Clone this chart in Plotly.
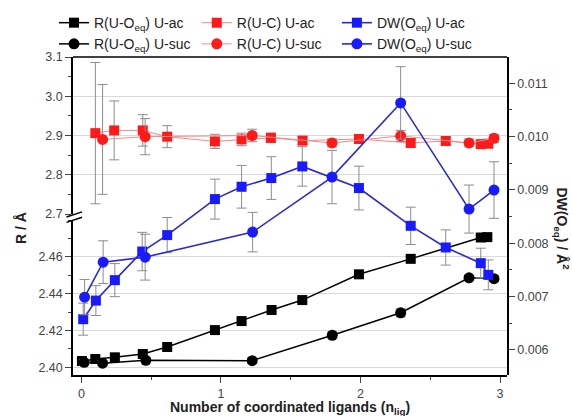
import plotly.graph_objects as go

# ---- data ----
x_blk_sq = [0.004, 0.10, 0.24, 0.44, 0.615, 0.957, 1.148, 1.363, 1.583, 1.989, 2.36, 2.862, 2.909]
y_blk_sq = [2.4034, 2.4045, 2.4054, 2.4072, 2.4110, 2.4202, 2.4251, 2.4311, 2.4365, 2.4505, 2.4589, 2.4705, 2.4707]
e_blk_sq = [0.0012, 0.0012, 0.0012, 0.0012, 0.0012, 0.0012, 0.0012, 0.0012, 0.0012, 0.0012, 0.0012, 0.0012, 0.0012]

x_blk_ci = [0.02, 0.152, 0.462, 1.224, 1.798, 2.288, 2.778, 2.957]
y_blk_ci = [2.4027, 2.4022, 2.4038, 2.4036, 2.4174, 2.4296, 2.4486, 2.4481]
e_blk_ci = [0.0015, 0.0015, 0.0015, 0.0015, 0.0018, 0.0022, 0.0015, 0.0015]

x_red_sq = [0.10, 0.235, 0.44, 0.615, 0.957, 1.148, 1.358, 1.585, 1.989, 2.36, 2.611, 2.862, 2.916]
y_red_sq = [2.906, 2.913, 2.913, 2.897, 2.885, 2.890, 2.894, 2.887, 2.891, 2.881, 2.886, 2.878, 2.879]
e_red_sq = [0.18, 0.075, 0.04, 0.028, 0.018, 0.016, 0.012, 0.010, 0.010, 0.010, 0.009, 0.009, 0.009]

x_red_ci = [0.152, 0.457, 1.224, 1.796, 2.288, 2.778, 2.957]
y_red_ci = [2.890, 2.897, 2.900, 2.881, 2.899, 2.881, 2.893]
e_red_ci = [0.14, 0.046, 0.016, 0.010, 0.014, 0.010, 0.010]

x_blu_sq = [0.013, 0.104, 0.24, 0.436, 0.615, 0.957, 1.148, 1.361, 1.583, 1.989, 2.36, 2.611, 2.862, 2.916]
y_blu_sq = [0.006576, 0.006925, 0.007308, 0.007844, 0.008152, 0.008827, 0.009058, 0.009221, 0.009439, 0.009034, 0.008326, 0.007920, 0.007626, 0.007407]
e_blu_sq = [0.00030, 0.00028, 0.00031, 0.00036, 0.00033, 0.000375, 0.00040, 0.00040, 0.00037, 0.00041, 0.00035, 0.00033, 0.00028, 0.00028]

x_blu_ci = [0.023, 0.156, 0.457, 1.227, 1.796, 2.288, 2.778, 2.957]
y_blu_ci = [0.006989, 0.007645, 0.007739, 0.008208, 0.009240, 0.010629, 0.008640, 0.008996]
e_blu_ci = [0.00033, 0.00040, 0.00043, 0.00037, 0.00050, 0.00068, 0.00045, 0.00053]

x_ticks = [0, 1, 2, 3]
y_low_ticks = [2.40, 2.42, 2.44, 2.46]
y_up_ticks = [2.7, 2.8, 2.9, 3.0, 3.1]
y_dw_ticks = [0.006, 0.007, 0.008, 0.009, 0.010, 0.011]

FONT = "Liberation Sans, Arial, sans-serif"
ERR = "#8c8c8c"

fig = go.Figure()

def add(name, x, y, e, yax, sym, color, lcolor, lw, size, leg):
    fig.add_trace(go.Scatter(
        x=x, y=y, name=name, yaxis=yax, mode="lines+markers", legend=leg,
        line=dict(color=lcolor, width=lw),
        marker=dict(symbol=sym, color=color, size=size, line=dict(width=0)),
        error_y=dict(type="data", array=e, visible=True, color=ERR, thickness=1, width=5),
    ))

add("R(U-O<sub>eq</sub>) U-ac", x_blk_sq, y_blk_sq, e_blk_sq, "y", "square", "black", "black", 1.5, 10, "legend")
add("R(U-O<sub>eq</sub>) U-suc", x_blk_ci, y_blk_ci, e_blk_ci, "y", "circle", "black", "black", 1.5, 11, "legend")
add("R(U-C) U-ac", x_red_sq, y_red_sq, e_red_sq, "y2", "square", "#ff1a1a", "#f28a8a", 1, 10, "legend2")
add("R(U-C) U-suc", x_red_ci, y_red_ci, e_red_ci, "y2", "circle", "#ff1a1a", "#f28a8a", 1, 11, "legend2")
add("DW(O<sub>eq</sub>) U-ac", x_blu_sq, y_blu_sq, e_blu_sq, "y3", "square", "#1a1aff", "#2a2ad0", 1.6, 10, "legend3")
add("DW(O<sub>eq</sub>) U-suc", x_blu_ci, y_blu_ci, e_blu_ci, "y3", "circle", "#1a1aff", "#2a2ad0", 1.6, 11, "legend3")

axcommon = dict(showline=True, linecolor="black", linewidth=1.5, ticks="outside",
                ticklen=6, tickwidth=1.2, tickcolor="#444", automargin=False,
                tickfont=dict(family=FONT, size=12.5, color="#444"), zeroline=False)

def legend_at(xpos):
    return dict(orientation="v", x=xpos, xref="container", xanchor="left",
                y=0.983, yref="container", yanchor="top",
                font=dict(family=FONT, size=14, color="#222"),
                bgcolor="rgba(0,0,0,0)", itemwidth=30, tracegroupgap=0)

fig.update_layout(
    template="none",
    width=572, height=416,
    margin=dict(l=73, r=65, t=57, b=41, autoexpand=False),
    paper_bgcolor="white", plot_bgcolor="rgba(0,0,0,0)",
    font=dict(family=FONT, color="black"),
    showlegend=True,
    legend=legend_at(0.0944),
    legend2=legend_at(0.344),
    legend3=legend_at(0.589),
    xaxis=dict(range=[-0.06, 3.05], tickvals=x_ticks, showgrid=False, anchor="y",
               minor=dict(ticks="outside", ticklen=3, dtick=0.5, tickcolor="#444", showgrid=False),
               **axcommon),
    yaxis=dict(domain=[0, 0.4874], range=[2.3958, 2.48], tickvals=y_low_ticks,
               tickformat=".2f", showgrid=True, gridcolor="#d9d9d9", gridwidth=1, anchor="x",
               minor=dict(ticks="outside", ticklen=3, dtick=0.01, tick0=2.40, tickcolor="#444", showgrid=False),
               **axcommon),
    yaxis2=dict(domain=[0.5063, 1], range=[2.7, 3.1], tickvals=y_up_ticks,
                tickformat=".1f", showgrid=True, gridcolor="#d9d9d9", gridwidth=1, anchor="x",
                minor=dict(ticks="outside", ticklen=3, dtick=0.05, tick0=2.7, tickcolor="#444", showgrid=False),
                **axcommon),
    yaxis3=dict(domain=[0, 1], range=[0.00553, 0.01149], tickvals=y_dw_ticks,
                tickformat=".3f", side="right", anchor="x", showgrid=False,
                minor=dict(ticks="outside", ticklen=3, dtick=0.0005, tick0=0.006, tickcolor="#444", showgrid=False),
                **axcommon),
)

# top frame line and axis break marks
fig.add_shape(type="line", xref="paper", yref="paper", x0=0, x1=1, y0=1, y1=1,
              line=dict(color="black", width=1.5))
for yc in (0.505, 0.488):
    fig.add_shape(type="line", xref="paper", yref="paper",
                  x0=-0.015, x1=0.021, y0=yc - 0.008, y1=yc + 0.008,
                  line=dict(color="black", width=1.5))

fig.add_annotation(text="<b>R / Å</b>", xref="paper", yref="paper", x=-0.143, y=0.462,
                   textangle=-90, showarrow=False, font=dict(family=FONT, size=14, color="#222"))
fig.add_annotation(text="<b>DW(O<sub>eq</sub>) / Å<sup>2</sup></b>", xref="paper", yref="paper",
                   x=1.155, y=0.46, textangle=90, showarrow=False,
                   font=dict(family=FONT, size=14, color="#222"))
fig.add_annotation(text="<b>Number of coordinated ligands (n<sub>lig</sub>)</b>", xref="paper",
                   yref="paper", x=0.5, y=-0.103, yanchor="middle", showarrow=False,
                   font=dict(family=FONT, size=14, color="#222"))

fig.write_html("out.html", config={"displayModeBar": False},
               post_script="document.body.style.margin='0';")
